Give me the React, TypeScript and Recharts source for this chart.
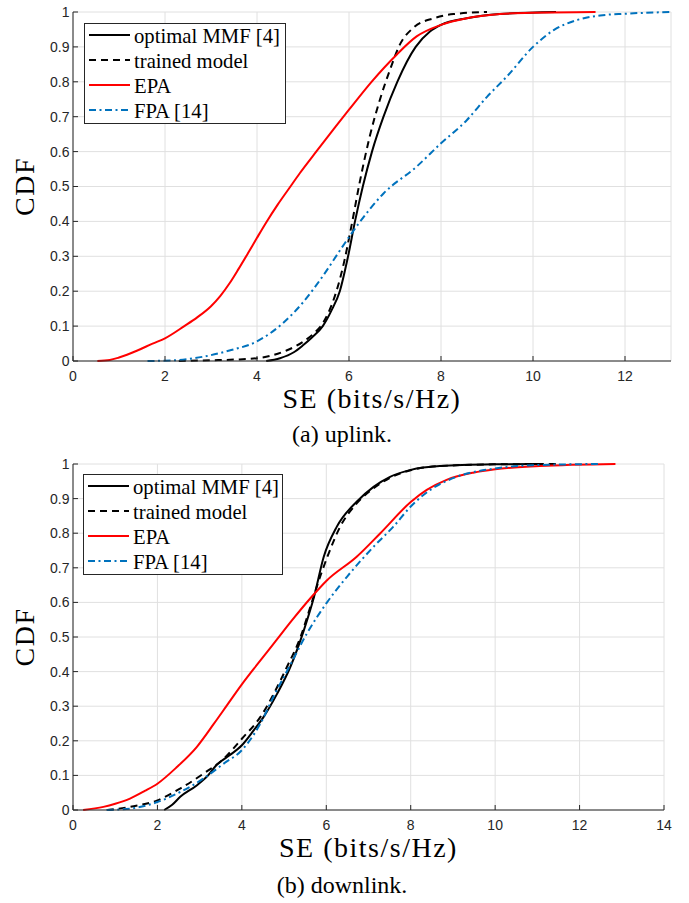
import { LineChart, Line, XAxis, YAxis, CartesianGrid } from "recharts";

// uplink CDFs (x = SE in bits/s/Hz, y = CDF)
const upMmfX = [4.2, 4.5, 4.8, 5.0, 5.2, 5.43, 5.62, 5.8, 5.98, 6.13, 6.3, 6.5, 6.75, 7.05, 7.45, 7.76, 8.0, 8.56, 9.28, 10.5];
const upMmfY = [0, 0.008, 0.025, 0.045, 0.068, 0.1, 0.145, 0.2, 0.3, 0.4, 0.5, 0.6, 0.7, 0.8, 0.9, 0.944, 0.963, 0.982, 0.994, 1.0];
const upTrainedX = [2.3, 3.0, 3.5, 4.0, 4.3, 4.64, 5.0, 5.2, 5.44, 5.65, 5.87, 6.05, 6.23, 6.45, 6.67, 6.89, 7.1, 7.4, 7.84, 8.27, 9.0];
const upTrainedY = [0, 0.002, 0.004, 0.008, 0.015, 0.03, 0.055, 0.075, 0.11, 0.17, 0.27, 0.385, 0.51, 0.643, 0.748, 0.834, 0.905, 0.955, 0.982, 0.994, 1.0];
const upEpaX = [0.53, 0.8, 1.0, 1.4, 1.73, 2.0, 2.42, 2.7, 3.0, 3.2, 3.4, 3.6, 3.8, 4.0, 4.2, 4.45, 4.7, 4.93, 5.3, 5.7, 6.0, 6.49, 7.03, 7.47, 8.0, 8.56, 9.28, 10.0, 11.36];
const upEpaY = [0, 0.003, 0.01, 0.03, 0.05, 0.065, 0.1, 0.125, 0.157, 0.186, 0.222, 0.264, 0.308, 0.353, 0.397, 0.448, 0.495, 0.538, 0.602, 0.67, 0.72, 0.8, 0.877, 0.93, 0.963, 0.982, 0.994, 0.998, 1.0];
const upFpaX = [1.62, 2.2, 2.82, 3.4, 3.98, 4.56, 5.0, 5.44, 5.87, 6.2, 6.75, 7.47, 8.0, 8.56, 9.0, 9.43, 10.0, 10.45, 10.96, 11.46, 12.0, 13.0];
const upFpaY = [0, 0.002, 0.012, 0.03, 0.055, 0.108, 0.168, 0.245, 0.33, 0.392, 0.48, 0.557, 0.624, 0.69, 0.757, 0.815, 0.9, 0.948, 0.977, 0.99, 0.995, 1.0];

// downlink CDFs
const downMmfX = [2.16, 2.35, 2.54, 2.93, 3.2, 3.4, 3.65, 4.0, 4.28, 4.52, 4.84, 5.15, 5.47, 5.71, 5.94, 6.25, 6.72, 7.12, 7.51, 8.0, 8.69, 10.0, 11.0];
const downMmfY = [0, 0.015, 0.038, 0.071, 0.1, 0.13, 0.153, 0.187, 0.23, 0.27, 0.337, 0.414, 0.52, 0.616, 0.732, 0.819, 0.891, 0.934, 0.963, 0.983, 0.994, 0.999, 1.0];
const downTrainedX = [0.8, 1.35, 2.0, 2.54, 3.09, 3.57, 4.0, 4.44, 4.76, 5.07, 5.39, 5.63, 5.87, 6.02, 6.33, 6.72, 7.12, 7.51, 8.0, 8.69, 10.0, 11.5];
const downTrainedY = [0, 0.009, 0.028, 0.062, 0.105, 0.148, 0.206, 0.269, 0.337, 0.414, 0.5, 0.59, 0.68, 0.73, 0.819, 0.886, 0.93, 0.96, 0.982, 0.994, 0.999, 1.0];
const downEpaX = [0.24, 0.72, 1.0, 1.35, 1.7, 2.0, 2.46, 2.93, 3.33, 3.65, 4.0, 4.36, 4.8, 5.2, 5.66, 6.0, 6.72, 7.28, 8.0, 8.38, 8.85, 9.48, 10.0, 11.05, 12.85];
const downEpaY = [0, 0.009, 0.018, 0.033, 0.055, 0.076, 0.124, 0.182, 0.248, 0.303, 0.363, 0.42, 0.488, 0.55, 0.617, 0.662, 0.732, 0.8, 0.89, 0.925, 0.954, 0.975, 0.985, 0.994, 1.0];
const downFpaX = [0.8, 1.35, 2.0, 2.54, 3.09, 3.57, 4.0, 4.44, 4.76, 5.15, 5.54, 6.0, 6.49, 7.12, 7.59, 8.0, 8.46, 9.09, 10.0, 11.05, 12.46];
const downFpaY = [0, 0.004, 0.023, 0.052, 0.091, 0.134, 0.173, 0.25, 0.33, 0.42, 0.51, 0.597, 0.674, 0.761, 0.819, 0.877, 0.925, 0.963, 0.987, 0.997, 1.0];

const upXTicks = [0, 2, 4, 6, 8, 10, 12];
const downXTicks = [0, 2, 4, 6, 8, 10, 12, 14];
const cdfTicks = [0, 0.1, 0.2, 0.3, 0.4, 0.5, 0.6, 0.7, 0.8, 0.9, 1];
const legendNames = ["optimal MMF [4]", "trained model", "EPA", "FPA [14]"];
const xTitle = "SE (bits/s/Hz)";
const yTitle = "CDF";
const captions = ["(a) uplink.", "(b) downlink."];

const SERIF = "'Liberation Serif', 'Times New Roman', serif";
const SANS = "'Liberation Sans', Arial, sans-serif";
const AXIS = "#262626";
const W = 689;

const lineStyles = [
  { stroke: "#000000", dash: undefined },
  { stroke: "#000000", dash: "7 5" },
  { stroke: "#ff0000", dash: undefined },
  { stroke: "#0072bd", dash: "7 3.5 2 3.5" },
];

const toPoints = (xs: number[], ys: number[]) => xs.map((x, i) => ({ x, y: ys[i] }));

const upSeries = [
  toPoints(upMmfX, upMmfY),
  toPoints(upTrainedX, upTrainedY),
  toPoints(upEpaX, upEpaY),
  toPoints(upFpaX, upFpaY),
];
const downSeries = [
  toPoints(downMmfX, downMmfY),
  toPoints(downTrainedX, downTrainedY),
  toPoints(downEpaX, downEpaY),
  toPoints(downFpaX, downFpaY),
];

const fmtY = (v: number) => (v === 0 || v === 1 ? String(v) : v.toFixed(1));

function Panel({ top, height, right, xMax, xTicks, series }: any) {
  const axisStroke = { stroke: AXIS, strokeWidth: 1 };
  return (
    <div style={{ position: "absolute", left: 0, top }}>
      <LineChart width={W} height={height} margin={{ top: 12, right, bottom: 0, left: 0 }}>
        <CartesianGrid stroke="#e0e0e0" />
        <XAxis
          type="number"
          dataKey="x"
          domain={[0, xMax]}
          ticks={xTicks}
          interval={0}
          allowDataOverflow
          height={59}
          tickSize={-5}
          tickMargin={15}
          axisLine={axisStroke}
          tickLine={axisStroke}
          tick={{ fill: AXIS, fontSize: 14, fontFamily: SANS }}
          label={{
            value: xTitle,
            position: "insideBottom",
            offset: 12,
            style: { fontFamily: SERIF, fontSize: 28, fill: "#000", letterSpacing: 1.5 },
          }}
        />
        <XAxis
          xAxisId="top"
          orientation="top"
          type="number"
          domain={[0, xMax]}
          ticks={xTicks}
          interval={0}
          height={0}
          tick={false}
          tickSize={-5}
          axisLine={axisStroke}
          tickLine={axisStroke}
        />
        <YAxis
          type="number"
          domain={[0, 1]}
          ticks={cdfTicks}
          interval={0}
          width={73}
          tickSize={-5}
          tickMargin={8.5}
          tickFormatter={fmtY}
          axisLine={axisStroke}
          tickLine={axisStroke}
          tick={{ fill: AXIS, fontSize: 14, fontFamily: SANS }}
          label={{
            value: yTitle,
            angle: -90,
            position: "insideLeft",
            offset: 24,
            style: { textAnchor: "middle", fontFamily: SERIF, fontSize: 28, fill: "#000", letterSpacing: 1.5 },
          }}
        />
        <YAxis
          yAxisId="right"
          orientation="right"
          type="number"
          domain={[0, 1]}
          ticks={cdfTicks}
          interval={0}
          width={0}
          tick={false}
          tickSize={-5}
          axisLine={axisStroke}
          tickLine={axisStroke}
        />
        {series.map((pts: any[], i: number) => (
          <Line
            key={legendNames[i]}
            name={legendNames[i]}
            data={pts}
            dataKey="y"
            type="monotone"
            stroke={lineStyles[i].stroke}
            strokeDasharray={lineStyles[i].dash}
            strokeWidth={2}
            dot={false}
            activeDot={false}
            isAnimationActive={false}
          />
        ))}
      </LineChart>
    </div>
  );
}

function LegendBox({ x, y, w }: { x: number; y: number; w: number }) {
  return (
    <g>
      <rect x={x + 0.5} y={y + 0.5} width={w} height={100} fill="#fff" stroke={AXIS} strokeWidth={1} />
      {legendNames.map((name, i) => {
        const ly = y + 12 + i * 25;
        return (
          <g key={name}>
            <line
              x1={x + 5}
              x2={x + 46}
              y1={ly}
              y2={ly}
              stroke={lineStyles[i].stroke}
              strokeDasharray={lineStyles[i].dash}
              strokeWidth={2}
            />
            <text x={x + 50} y={ly + 7.5} fontFamily={SERIF} fontSize={20.7} fill="#000">
              {name}
            </text>
          </g>
        );
      })}
    </g>
  );
}

export default function App() {
  return (
    <div style={{ position: "absolute", left: 0, top: 0, width: W, height: 903, background: "#fff" }}>
      <Panel top={0} height={420} right={18} xMax={13} xTicks={upXTicks} series={upSeries} />
      <Panel top={452} height={417} right={25} xMax={14} xTicks={downXTicks} series={downSeries} />
      <svg
        width={W}
        height={903}
        style={{ position: "absolute", left: 0, top: 0, pointerEvents: "none" }}
      >
        <LegendBox x={84} y={23} w={201} />
        <LegendBox x={83} y={474} w={199} />
        <text x={342} y={441.7} textAnchor="middle" fontFamily={SERIF} fontSize={24} fill="#000">
          {captions[0]}
        </text>
        <text x={342} y={893} textAnchor="middle" fontFamily={SERIF} fontSize={24} fill="#000">
          {captions[1]}
        </text>
      </svg>
    </div>
  );
}
